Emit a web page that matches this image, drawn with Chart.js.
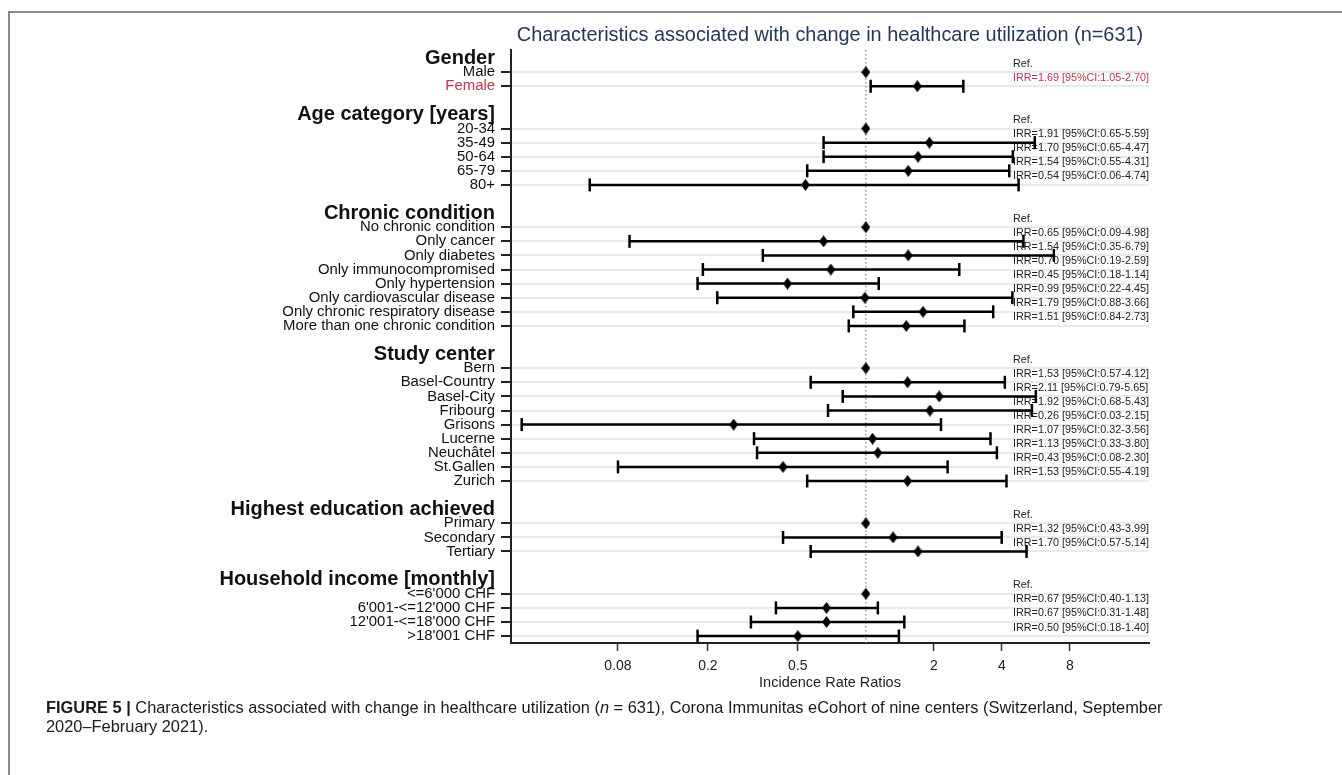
<!DOCTYPE html>
<html>
<head>
<meta charset="utf-8">
<script src="https://cdn.jsdelivr.net/npm/chart.js@4.4.1/dist/chart.umd.min.js"></script>
<style>
    html, body { margin: 0; padding: 0; background: #fff; }
    #wrap { position: relative; width: 1342px; height: 775px; overflow: hidden; }
    #frame { position: absolute; left: 8px; top: 11px; width: 1400px; height: 800px;
             border-top: 2px solid #8a8a8a; border-left: 2px solid #8a8a8a; }
    #forest { position: absolute; left: 0; top: 0; }
    #caption { position: absolute; left: 46px; top: 698px; color: #1a1a1a;
               font: 16.4px 'Liberation Sans', Arial, sans-serif; line-height: 19px; }
</style>
</head>
<body>
<div id="wrap">
    <div id="frame"></div>
    <canvas id="forest" width="1342" height="700"></canvas>
    <div id="caption"><b>FIGURE 5 |</b> Characteristics associated with change in healthcare utilization (<i>n</i> = 631), Corona Immunitas eCohort of nine centers (Switzerland, September<br>2020–February 2021).</div>
</div>
<script>
const chartTitle = 'Characteristics associated with change in healthcare utilization (n=631)';
const groupNames = ['Gender', 'Age category [years]', 'Chronic condition', 'Study center',
    'Highest education achieved', 'Household income [monthly]'];

const rowLabels = [
    ['Male', 'Female'],
    ['20-34', '35-49', '50-64', '65-79', '80+'],
    ['No chronic condition', 'Only cancer', 'Only diabetes', 'Only immunocompromised', 'Only hypertension',
        'Only cardiovascular disease', 'Only chronic respiratory disease', 'More than one chronic condition'],
    ['Bern', 'Basel-Country', 'Basel-City', 'Fribourg', 'Grisons', 'Lucerne', 'Neuchâtel', 'St.Gallen', 'Zurich'],
    ['Primary', 'Secondary', 'Tertiary'],
    ["<=6'000 CHF", "6'001-<=12'000 CHF", "12'001-<=18'000 CHF", ">18'001 CHF"]
];

// null CI = reference category
const irrValues = [
    [1, 1.69],
    [1, 1.91, 1.70, 1.54, 0.54],
    [1, 0.65, 1.54, 0.70, 0.45, 0.99, 1.79, 1.51],
    [1, 1.53, 2.11, 1.92, 0.26, 1.07, 1.13, 0.43, 1.53],
    [1, 1.32, 1.70],
    [1, 0.67, 0.67, 0.50]
];
const ciLow = [
    [null, 1.05],
    [null, 0.65, 0.65, 0.55, 0.06],
    [null, 0.09, 0.35, 0.19, 0.18, 0.22, 0.88, 0.84],
    [null, 0.57, 0.79, 0.68, 0.03, 0.32, 0.33, 0.08, 0.55],
    [null, 0.43, 0.57],
    [null, 0.40, 0.31, 0.18]
];
const ciHigh = [
    [null, 2.70],
    [null, 5.59, 4.47, 4.31, 4.74],
    [null, 4.98, 6.79, 2.59, 1.14, 4.45, 3.66, 2.73],
    [null, 4.12, 5.65, 5.43, 2.15, 3.56, 3.80, 2.30, 4.19],
    [null, 3.99, 5.14],
    [null, 1.13, 1.48, 1.40]
];

const xTicks = [0.08, 0.2, 0.5, 2, 4, 8];
const highlightRow = 'Female';
const red = '#c0354f';

// one row per label, header rows and a blank row between groups
const rows = [];
groupNames.forEach((g, gi) => {
    if (gi > 0) rows.push({ type: 'blank', label: '' });
    rows.push({ type: 'header', label: g });
    rowLabels[gi].forEach((lab, k) => {
        rows.push({ type: 'data', label: lab, irr: irrValues[gi][k], lo: ciLow[gi][k], hi: ciHigh[gi][k] });
    });
});

const yMin = -0.57;
const yMax = 41.49;

const estPoints = [];
const ciPoints = [];
rows.forEach((r, i) => {
    if (r.type !== 'data') return;
    estPoints.push({ x: r.irr, y: i });
    if (r.lo != null) {
        ciPoints.push({ x: r.lo, y: i }, { x: r.hi, y: i }, { x: null, y: null });
    }
});

// diamond marker
const diamond = document.createElement('canvas');
diamond.width = 9;
diamond.height = 12;
const dctx = diamond.getContext('2d');
dctx.fillStyle = '#000';
dctx.beginPath();
dctx.moveTo(4.5, 0);
dctx.lineTo(9, 6);
dctx.lineTo(4.5, 12);
dctx.lineTo(0, 6);
dctx.closePath();
dctx.fill();

const rowOf = (ctx) => (ctx && ctx.tick) ? rows[ctx.tick.value] : undefined;
const isData = (ctx) => { const r = rowOf(ctx); return r && r.type === 'data'; };
const sans = "'Liberation Sans', Arial, sans-serif";
const labelFont = { family: sans, size: 14.9 };
const headerFont = { family: sans, size: 20, weight: 'bold' };

const textPlugin = {
    id: 'irrText',
    beforeDatasetsDraw(chart) {
        const { ctx, chartArea, scales } = chart;
        ctx.save();
        ctx.font = '10.8px ' + sans;
        ctx.textBaseline = 'middle';
        ctx.textAlign = 'left';
        rows.forEach((r, i) => {
            if (r.type !== 'data') return;
            const txt = r.lo == null ? 'Ref.'
                : `IRR=${r.irr.toFixed(2)} [95%CI:${r.lo.toFixed(2)}-${r.hi.toFixed(2)}]`;
            ctx.fillStyle = r.label === highlightRow ? red : '#222';
            ctx.fillText(txt, chartArea.right - 136, scales.y.getPixelForValue(i) - 8.5);
        });
        ctx.restore();
    },
    afterDraw(chart) {
        const { ctx, chartArea } = chart;
        ctx.save();
        ctx.font = '19.9px ' + sans;
        ctx.fillStyle = '#263759';
        ctx.textAlign = 'center';
        ctx.textBaseline = 'middle';
        ctx.fillText(chartTitle, (chartArea.left + chartArea.right) / 2, 36);
        ctx.restore();
    }
};

new Chart(document.getElementById('forest'), {
    type: 'scatter',
    data: {
        datasets: [
            {
                type: 'scatter',
                data: estPoints,
                pointStyle: diamond,
                order: 1
            },
            {
                type: 'line',
                data: ciPoints,
                borderColor: '#000',
                borderWidth: 2.5,
                spanGaps: false,
                pointStyle: 'line',
                pointRotation: 90,
                pointRadius: 6.5,
                pointBorderWidth: 2.5,
                pointBorderColor: '#000',
                order: 2
            },
            {
                type: 'line',
                data: [{ x: 1, y: yMin }, { x: 1, y: yMax }],
                borderColor: '#8c8c8c',
                borderWidth: 1.3,
                borderDash: [1.5, 2.5],
                pointRadius: 0,
                order: 3
            }
        ]
    },
    options: {
        responsive: false,
        animation: false,
        devicePixelRatio: 1,
        layout: { padding: { left: 0, right: 193, top: 50, bottom: 0 } },
        plugins: { legend: { display: false }, tooltip: { enabled: false } },
        scales: {
            x: {
                type: 'logarithmic',
                min: 0.0269,
                max: 17.9,
                afterBuildTicks: (s) => { s.ticks = xTicks.map(v => ({ value: v })); },
                afterFit: (s) => { s.height = 57; },
                border: { display: true, color: '#222', width: 2 },
                grid: { drawOnChartArea: false, tickLength: 8, tickColor: '#333', tickWidth: 1.5 },
                ticks: {
                    autoSkip: false,
                    maxRotation: 0,
                    padding: 7,
                    color: '#222',
                    font: { family: sans, size: 14 },
                    callback: (v) => String(v)
                },
                title: {
                    display: true,
                    text: 'Incidence Rate Ratios',
                    color: '#222',
                    padding: { top: 0, bottom: 8 },
                    font: { family: sans, size: 14.5 }
                }
            },
            y: {
                type: 'linear',
                reverse: true,
                min: yMin,
                max: yMax,
                afterBuildTicks: (s) => { s.ticks = rows.map((r, i) => ({ value: i })); },
                afterFit: (s) => { s.width = 511; },
                border: { display: true, color: '#222', width: 2 },
                grid: {
                    lineWidth: 2,
                    color: (ctx) => isData(ctx) ? '#e5ecec' : 'rgba(0,0,0,0)',
                    tickLength: 10,
                    tickWidth: 2,
                    tickColor: (ctx) => isData(ctx) ? '#222' : 'rgba(0,0,0,0)'
                },
                ticks: {
                    autoSkip: false,
                    padding: 6,
                    callback: (v) => rows[v] ? rows[v].label : '',
                    color: (ctx) => { const r = rowOf(ctx); return (r && r.label === highlightRow) ? red : '#111'; },
                    font: (ctx) => { const r = rowOf(ctx); return (r && r.type === 'header') ? headerFont : labelFont; }
                }
            }
        }
    },
    plugins: [textPlugin]
});
</script>
</body>
</html>
